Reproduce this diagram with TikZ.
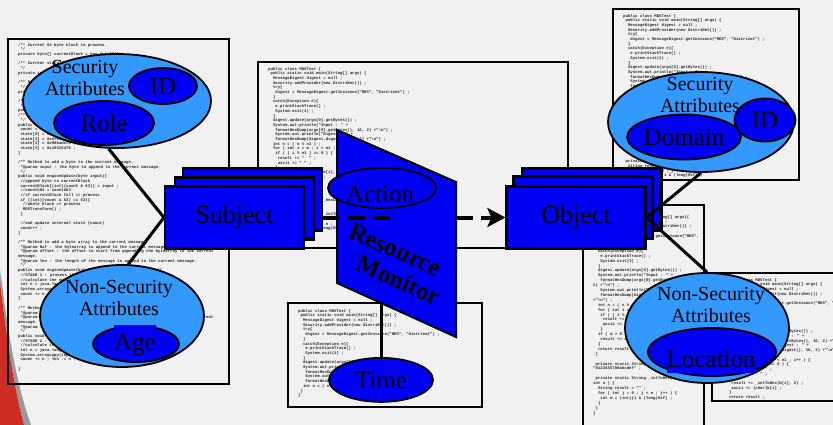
\documentclass[tikz,border=0pt]{standalone}
\usepackage{fontspec}
\setmainfont{Liberation Serif}
\newfontfamily\codefont{Liberation Mono}
\usetikzlibrary{arrows.meta,shapes.geometric,positioning}

\definecolor{boxblue}{RGB}{0,0,245}
\definecolor{attrblue}{RGB}{51,153,255}
\definecolor{paper}{RGB}{241,241,241}
\definecolor{slidered}{RGB}{205,45,35}

\newlength\codestep
\setlength\codestep{2.4pt}
\newcommand\In[1]{\hspace*{#1\codestep}}

\newcommand\CodeLeft{%
/** Current 64 byte block to process.\\
\In{1}*/\\
private byte[] currentBlock = new byte[64] ;\\
\mbox{}\\
/** Current state (A, B, C, D) of the digest.\\
\In{1}*/\\
private int[] state = new int[4] ;\\
\mbox{}\\
/** Number of bytes processed so far.\\
\In{1}*/\\
private long count = 0 ;\\
\mbox{}\\
/** Constructor of the MD5 engine.\\
\In{1}*/\\
public MD5() \{ super("MD5") ; engineReset() ; \}\\
/** Method to reset the digest.\\
\In{1}*/\\
public void engineReset()\{\\
\In{1}count = 0 ;\\
\In{1}state[0] = 0x67452301 ;\\
\In{1}state[1] = 0xefcdab89 ;\\
\In{1}state[2] = 0x98badcfe ;\\
\In{1}state[3] = 0x10325476 ;\\
\}\\
\mbox{}\\
/** Method to add a byte to the current message.\\
\In{1}*@param input : the byte to append to the current message.\\
\In{1}*/\\
public void engineUpdate(byte input)\{\\
\In{1}//append byte to currentBlock\\
\In{1}currentBlock[(int)(count \& 63)] = input ;\\
\In{1}//count\%64 = count\&63\\
\In{1}//if currentBlock full => process\\
\In{1}if ((int)(count \& 63) == 63)\{\\
\In{2}//whole block => process\\
\In{2}MD5Transform() ;\\
\In{1}\}\\
\mbox{}\\
\In{1}//and update internal state (count)\\
\In{1}count++ ;\\
\}\\
\mbox{}\\
/** Method to add a byte array to the current message.\\
\In{1}*@param buf : the bytearray to append to the current message.\\
\In{1}*@param offset : the offset to start from appending the bytearray to the current\\
message.\\
\In{1}*@param len : the length of the message to append to the current message.\\
\In{1}*/\\
public void engineUpdate(byte[] input, int offset, int len)\{\\
\In{1}//STAGE 1 : process the current block\\
\In{1}//calculate the number of bytes to copy\\
\In{1}int n = java.lang.Math.min(len, 64 - (int)(count \& 63)) ;\\
\In{1}System.arraycopy(input, offset, currentBlock, (int)(count \& 63), n) ;\\
\In{1}count += n ; len -= n ;\\
\}\\
\mbox{}\\
/** Method to add the rest of a byte array to the current message.\\
\In{1}*@param buf : the bytearray to append to the current message.\\
\In{1}*@param offset : the offset to start from appending the bytearray to the current\\
message.\\
\In{1}*@param len : the length of the message to append to the current message.\\
\In{1}*/\\
public void engineUpdateRest(byte[] input, int offset, int len)\{\\
\In{1}//STAGE 2 : process the full blocks\\
\In{1}//calculate the number of bytes to copy\\
\In{1}int n = java.lang.Math.min(len, 64) ;\\
\In{1}System.arraycopy(input, offset, currentBlock, 0, n) ;\\
\In{1}count += n ; len -= n ;\\
\mbox{}\\
\}}

\newcommand\CodeTop{%
public class MD5Test \{\\
\In{1}public static void main(String[] args) \{\\
\In{2}MessageDigest digest = null ;\\
\In{2}Security.addProvider(new DistriNet()) ;\\
\In{2}try\{\\
\In{3}digest = MessageDigest.getInstance("MD5", "Distrinet") ;\\
\In{2}\}\\
\In{2}catch(Exception e)\{\\
\In{3}e.printStackTrace() ;\\
\In{3}System.exit(1) ;\\
\In{2}\}\\
\In{2}digest.update(args[0].getBytes()) ;\\
\In{2}System.out.println("Input : " +\\
\In{3}formatHexDump(args[0].getBytes(), 16, 2) +"\textbackslash n") ;\\
\In{3}System.out.println("Digest : " +\\
\In{3}formatHexDump(digest.digest(), 16, 2) +"\textbackslash n") ;\\
\In{2}int n = ( n \% n1 ) ;}

\newcommand\CodeRest{%
\In{2}for ( int i = m ; i < n1 ; i++ ) \{\\
\In{3}if ( ( i \% n1 ) == 0 ) \{\\
\In{4}result += "~~" ;\\
\In{4}ascii += " " ;\\
\In{3}\}\\
\In{3}result += \_intToHex(b[i], 2) ;\\
\In{3}ascii += (char)b[i] ;\\
\In{2}\}\\
\In{2}return result ;\\
\In{1}\}\\
\mbox{}\\
\In{1}private static String \_hexChars =\\
\In{2}"0123456789abcdef" ;\\
\mbox{}\\
\In{1}private static String \_intToHex(int i, int n) \{\\
\In{2}String result = "" ;\\
\In{2}for ( int j = 0 ; j < n ; j++ ) \{\\
\In{3}int m = (int)(i \& (long)0xf) ;\\
\In{2}\}\\
\In{1}\}\\
\}}

\newcommand\CodeWrap{%
public class MD5Test \{\\
\In{1}public static void main(String[] args)\{\\
\In{2}MessageDigest digest = null ;\\
\In{2}Security.addProvider(new DistriNet()) ;\\
\In{2}try\{\\
\In{3}digest = MessageDigest.getInstance("MD5",\\
"Distrinet") ;\\
\In{2}\}\\
\In{2}catch(Exception e)\{\\
\In{3}e.printStackTrace() ;\\
\In{3}System.exit(1) ;\\
\In{2}\}\\
\In{2}digest.update(args[0].getBytes()) ;\\
\In{2}System.out.println("Input : " +\\
\In{3}formatHexDump(args[0].getBytes(), 1\\
2) +"\textbackslash n") ;\\
\In{3}System.out.println("Digest : " +\\
\In{3}formatHexDump(digest.digest(), 16, 2)\\
+"\textbackslash n") ;\\
\In{2}int n = ( n \% n1 ) ;\\
\In{2}for ( int i = m ; i < n1 ; i++ ) \{\\
\In{3}if ( ( i \% n1 ) == 0 ) \{\\
\In{4}result += "~~" ;\\
\In{4}ascii += " " ;\\
\In{3}\}\\
\In{2}if ( m > 0 ) \{\\
\In{3}result += ascii ;\\
\In{2}\}\\
\In{2}return result ;\\
\In{1}\}\\
\mbox{}\\
\In{1}private static String \_hexChars =\\
"0123456789abcdef" ;\\
\mbox{}\\
\In{1}private static String \_intToHex(int i,\\
int n ) \{\\
\In{2}String result = "" ;\\
\In{2}for ( int j = 0 ; j < n ; j++ ) \{\\
\In{3}int m = (int)(i \& (long)0xf) ;\\
\In{2}\}\\
\In{1}\}\\
\}}

\begin{document}
\begin{tikzpicture}[x = 1pt, y = -1pt]
  \useasboundingbox (0,0) rectangle (833,425);
  \tikzset{SheetStyle/.style  = {draw,
                                 line width     = 1.8pt}}
  \tikzset{CodeStyle/.style   = {anchor         = north west,
                                 inner sep      = 0pt,
                                 align          = left,
                                 text           = black!85,
                                 font           = \codefont\bfseries\fontsize{4}{4.7}\selectfont}}
  \tikzset{StackStyle/.style  = {draw,
                                 line width     = 2.2pt,
                                 fill           = boxblue,
                                 inner sep      = 0pt,
                                 minimum width  = 139pt,
                                 minimum height = 62pt,
                                 font           = \fontsize{26}{28}\selectfont}}
  \tikzset{GroupStyle/.style  = {shape          = ellipse,
                                 draw,
                                 line width     = 1.8pt,
                                 fill           = attrblue,
                                 inner sep      = 0pt}}
  \tikzset{ValueStyle/.style  = {shape          = ellipse,
                                 draw,
                                 line width     = 1.8pt,
                                 fill           = boxblue,
                                 inner sep      = 0pt,
                                 font           = \fontsize{25}{27}\selectfont}}
  \tikzset{TitleStyle/.style  = {inner sep      = 0pt,
                                 align          = center,
                                 font           = \fontsize{20}{21.5}\selectfont}}
  \tikzset{PatchStyle/.style  = {fill           = boxblue,
                                 anchor         = base,
                                 inner sep      = 0pt,
                                 font           = \fontsize{25}{27}\selectfont}}
  \tikzset{LinkStyle/.style   = {line width     = 3pt}}
  \tikzset{FlowStyle/.style   = {line width     = 4pt,
                                 dash pattern   = on 17pt off 8pt}}

  \fill[paper] (0,0) rectangle (833,425);
  \fill[black!40] (0,270) .. controls (8,330) and (15,380) .. (31,425) -- (24,425)
        .. controls (12,380) and (6,330) .. (0,282) -- cycle;
  \fill[slidered] (0,282) .. controls (6,330) and (12,380) .. (24,425) -- (0,425) -- cycle;

  \begin{scope}
    \clip (8,39) rectangle (229,384);
    \node[CodeStyle] (listA) at (18,43) {\CodeLeft};
  \end{scope}
  \draw[SheetStyle] (8,39) rectangle (229,384);
  \begin{scope}
    \clip (258,62) rectangle (568,248);
    \node[CodeStyle] (listB) at (268,67) {\CodeTop\\\CodeRest};
  \end{scope}
  \draw[SheetStyle] (258,62) rectangle (568,248);
  \begin{scope}
    \clip (288,303) rectangle (482,407);
    \node[CodeStyle] (listC) at (298,309) {\CodeTop\\\In{1}\}\\\}};
  \end{scope}
  \draw[SheetStyle] (288,303) rectangle (482,407);
  \begin{scope}
    \clip (613,9) rectangle (799,180);
    \node[CodeStyle] (listD) at (623,14) {\CodeTop\\\CodeRest};
  \end{scope}
  \draw[SheetStyle] (613,9) rectangle (799,180);
  \begin{scope}
    \clip (583,205) rectangle (704,440);
    \node[CodeStyle, font = \codefont\bfseries\fontsize{4}{4.9}\selectfont] (listE) at (593,210) {\CodeWrap};
  \end{scope}
  \draw[SheetStyle] (583,205) rectangle (704,440);
  \begin{scope}
    \clip (712,273) rectangle (833,401);
    \node[CodeStyle] (listF) at (724,278) {\CodeTop\\\CodeRest};
  \end{scope}
  \draw[SheetStyle] (712,273) rectangle (845,401);

  \node[StackStyle] (S2) at (252.5,199.5) {};
  \node[StackStyle] (S1) at (244.5,208.5) {};
  \node[StackStyle] (S)  at (234.5,217.5) {Subject};
  \node[StackStyle] (O2) at (592,199.5) {};
  \node[StackStyle] (O1) at (583,207.5) {};
  \node[StackStyle] (O)  at (576,217.5) {Object};

  \coordinate (m1) at (337,130);
  \coordinate (m2) at (456,182);
  \coordinate (m3) at (456,337);
  \coordinate (m4) at (337,283);
  \filldraw[fill = boxblue, line width = 2pt] (m1) -- (m2) -- (m3) -- (m4) -- cycle;
  \node[rotate = -23.6, align = center, inner sep = 0pt,
        font = \bfseries\fontsize{25}{27}\selectfont] (monitor) at (390,262)
        {Resource\\\hspace*{30pt}Monitor};

  \coordinate (actEnd)  at (398,217.5);
  \coordinate (monEast) at (456,217.5);
  \draw[FlowStyle] ([xshift = 18pt]S.east) -- (actEnd);
  \draw[FlowStyle, -{Stealth[length = 18pt, width = 19pt, inset = 4pt]}] (monEast) -- (O.west);

  \node[ValueStyle, minimum width = 108pt, minimum height = 40pt] (action) at (382,188) {};
  \node[PatchStyle, fill = none] (actiontxt) at (380,202) {Action};

  \coordinate (monBot) at (381,302);
  \node[ValueStyle, minimum width = 104pt, minimum height = 44pt, below = 55pt of monBot] (time) {Time};

  \node[GroupStyle, minimum width = 188pt, minimum height = 94pt] (secL) at (117,101) {};
  \node[TitleStyle] (secLtxt) at (85,78) {Security\\Attributes};
  \node[ValueStyle, minimum width = 68pt, minimum height = 36pt] (idL) at (163,86) {ID};
  \node[ValueStyle, minimum width = 100pt, minimum height = 44pt] (role) at (104,123) {Role};

  \node[GroupStyle, minimum width = 164pt, minimum height = 102pt] (nsecL) at (122,316) {};
  \node[TitleStyle] (nsecLtxt) at (119,298) {Non-Security\\Attributes};
  \node[ValueStyle, minimum width = 86pt, minimum height = 36pt] (age) at (136,344) {};
  \node[PatchStyle, text height = 25pt, text depth = 3pt] (agetxt) at (135,350) {Age};

  \node[GroupStyle, minimum width = 186pt, minimum height = 100pt] (secR) at (701,122) {};
  \node[TitleStyle] (secRtxt) at (700,95) {Security\\Attributes};
  \node[ValueStyle, minimum width = 112pt, minimum height = 45pt] (domain) at (684,137) {Domain};
  \node[ValueStyle, minimum width = 61pt, minimum height = 43pt] (idR) at (765,120) {ID};

  \node[GroupStyle, minimum width = 164pt, minimum height = 110pt] (nsecR) at (707,328) {};
  \node[TitleStyle] (nsecRtxt) at (711,305) {Non-Security\\Attributes};
  \node[ValueStyle, minimum width = 128pt, minimum height = 48pt] (location) at (712,352) {};
  \node[PatchStyle, text height = 18pt, text depth = 6pt] (loctxt) at (711,367) {Location};

  \draw[LinkStyle] (secL.-100) -- (S.west);
  \draw[LinkStyle] (nsecL.83) -- (S.west);
  \draw[LinkStyle] (secR.south) -- (O.east);
  \draw[LinkStyle] (nsecR.north) -- (O.east);
  \draw[LinkStyle] (monBot) -- (time.north);
\end{tikzpicture}
\end{document}
